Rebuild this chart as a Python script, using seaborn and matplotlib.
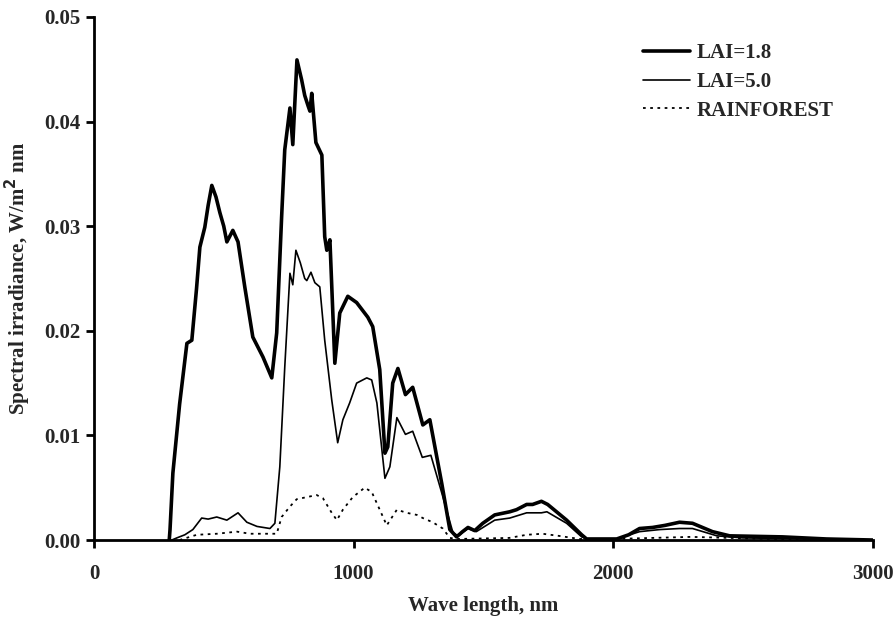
import matplotlib
matplotlib.use("Agg")
import matplotlib.pyplot as plt
import seaborn as sns
import pandas as pd

# ---- data ----
lai18_wl = [290, 293, 304, 330, 358, 377, 395, 408, 427, 440, 454, 470, 485, 500, 512, 535, 555,
            581, 612, 651, 685, 704, 723, 735, 755, 766, 782, 800, 812, 825, 832, 839, 855, 878,
            889, 897, 909, 928, 947, 978, 1012, 1055, 1074, 1101, 1121, 1132, 1151, 1171, 1200,
            1228, 1267, 1294, 1340, 1371, 1397, 1420, 1441, 1467, 1498, 1544, 1602, 1628, 1667,
            1690, 1724, 1748, 1821, 1879, 1898, 2014, 2060, 2102, 2152, 2200, 2256, 2306, 2383,
            2449, 2653, 2822, 3000]
lai18_val = [0.0, 0.001, 0.0064, 0.013, 0.0188, 0.0191, 0.024, 0.028, 0.0299, 0.032, 0.0339,
             0.0328, 0.0313, 0.0300, 0.0285, 0.0296, 0.0285, 0.0242, 0.0194, 0.0175, 0.0155,
             0.0198, 0.0309, 0.0373, 0.0413, 0.0378, 0.0459, 0.0440, 0.0425, 0.0415, 0.041,
             0.0427, 0.038, 0.0368, 0.029, 0.0277, 0.0287, 0.0169, 0.0217, 0.0233, 0.0227,
             0.0213, 0.0204, 0.0163, 0.0083, 0.0089, 0.015, 0.0164, 0.0139, 0.0146, 0.011,
             0.0115, 0.0054, 0.001, 0.0003, 0.0008, 0.0012, 0.0009, 0.0016, 0.0024, 0.0027,
             0.0029, 0.0034, 0.0034, 0.0037, 0.0034, 0.0019, 0.0005, 0.0001, 0.0001, 0.0005,
             0.0011, 0.0012, 0.0014, 0.0017, 0.0016, 0.0008, 0.0004, 0.0003, 0.0001, 0.0]

lai50_wl = [300, 319, 350, 381, 415, 440, 473, 512, 555, 589, 628, 678, 697, 716, 735, 755, 766,
            778, 795, 812, 820, 836, 851, 870, 889, 916, 939, 959, 985, 1012, 1051, 1070, 1090,
            1121, 1140, 1167, 1200, 1228, 1265, 1298, 1340, 1383, 1403, 1441, 1473, 1544, 1602,
            1667, 1724, 1745, 1821, 1879, 1900, 2014, 2102, 2180, 2256, 2306, 2400, 2500, 2800,
            3000]
lai50_val = [0.0, 0.0002, 0.0005, 0.001, 0.0021, 0.002, 0.0022, 0.0019, 0.0026, 0.0017, 0.0013,
             0.0011, 0.0016, 0.007, 0.0165, 0.0255, 0.0244, 0.0277, 0.0265, 0.025, 0.0248,
             0.0256, 0.0246, 0.0242, 0.0191, 0.0134, 0.0093, 0.0115, 0.0131, 0.015, 0.0155,
             0.0153, 0.0131, 0.0059, 0.007, 0.0117, 0.0101, 0.0104, 0.0079, 0.0081, 0.0045,
             0.0007, 0.0004, 0.0011, 0.0008, 0.0019, 0.0021, 0.0026, 0.0026, 0.0027, 0.0016,
             0.0003, 0.0001, 0.0001, 0.0008, 0.001, 0.0011, 0.0011, 0.0004, 0.0002, 0.0001, 0.0]

rain_wl = [330, 343, 396, 473, 551, 601, 704, 723, 755, 781, 858, 882, 916, 936, 959, 997, 1043,
           1070, 1101, 1128, 1167, 1205, 1244, 1267, 1305, 1344, 1371, 1400, 1600, 1667, 1728,
           1790, 1871, 2000, 2150, 2300, 2450, 2600, 3000]
rain_val = [0.0, 0.0001, 0.0005, 0.0006, 0.0008, 0.0006, 0.0006, 0.0022, 0.0032, 0.0039, 0.0043,
            0.004, 0.0026, 0.0019, 0.0029, 0.0041, 0.005, 0.0046, 0.0029, 0.0014, 0.0029, 0.0026,
            0.0024, 0.0021, 0.0017, 0.0011, 0.0002, 0.0001, 0.0002, 0.0005, 0.0006, 0.0004,
            0.0001, 0.0001, 0.0002, 0.0003, 0.0002, 0.0001, 0.0]

series_names = ["LAI=1.8", "LAI=5.0", "RAINFOREST"]
x_ticks = [0, 1000, 2000, 3000]
y_ticks = [0.00, 0.01, 0.02, 0.03, 0.04, 0.05]

# ---- styling ----
sns.set_style("ticks")
plt.rcParams["font.family"] = ["Liberation Serif", "DejaVu Serif"]
plt.rcParams["font.weight"] = "bold"
FS = 15

fig = plt.figure(figsize=(8.95, 6.2), dpi=100)
ax = fig.add_axes([0.105, 0.129, 0.870, 0.8436])

styles = [dict(lw=2.6, ls="-"), dict(lw=1.2, ls="-"), dict(lw=1.3, ls=(0, (1.5, 2.5)))]
for name, xs, ys, st in zip(series_names, [lai18_wl, lai50_wl, rain_wl],
                            [lai18_val, lai50_val, rain_val], styles):
    df = pd.DataFrame({"wl": xs, "val": ys})
    sns.lineplot(data=df, x="wl", y="val", ax=ax, color="black", linewidth=st["lw"],
                 linestyle=st["ls"], label=name, estimator=None, sort=False)

ax.set_xlim(0, 3000)
ax.set_ylim(0, 0.05)
ax.set_xticks(x_ticks)
ax.set_xticklabels([str(t) for t in x_ticks])
ax.set_yticks(y_ticks)
ax.set_yticklabels([f"{t:.2f}" for t in y_ticks])
ax.tick_params(axis="both", labelsize=FS, width=2, length=6, color="black", direction="out")
ax.tick_params(axis="x", pad=11)
for lab in ax.get_xticklabels() + ax.get_yticklabels():
    lab.set_fontweight("bold")

for s in ["top", "right"]:
    ax.spines[s].set_visible(False)
for s in ["left", "bottom"]:
    ax.spines[s].set_linewidth(2)
    ax.spines[s].set_color("black")

ax.set_xlabel("Wave length, nm", fontsize=FS, fontweight="bold", labelpad=9)
ax.set_ylabel("Spectral irradiance, W/m$^\\mathbf{2}$ nm", fontsize=FS, fontweight="bold", labelpad=8)

leg = ax.legend(loc="upper left", bbox_to_anchor=(0.705, 0.95), frameon=False,
                prop={"size": FS, "weight": "bold"}, handlelength=2.25,
                handletextpad=0.33, labelspacing=0.42, borderpad=0, borderaxespad=0)

fig.savefig("out.png", dpi=100, facecolor="white")
